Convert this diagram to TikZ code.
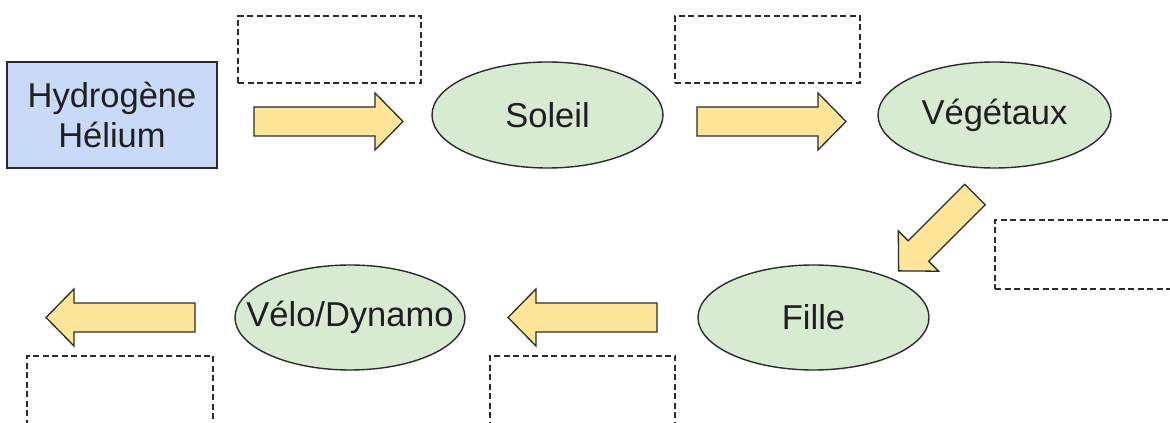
\documentclass[tikz,border=0pt]{standalone}
\usepackage{fontspec}
\setmainfont{Liberation Sans}
\usetikzlibrary{shapes.geometric}
\definecolor{boxblue}{HTML}{C9DAF8}
\definecolor{ellgreen}{HTML}{D9EAD3}
\definecolor{arrowyellow}{HTML}{FFE599}
\definecolor{edge}{HTML}{2B2B2B}
\tikzset{
  txt/.style={font=\fontsize{34.5}{40}\selectfont, text=black!88, align=center},
  source/.style={txt, draw=edge, line width=1.4pt, fill=boxblue, minimum width=210pt, minimum height=106pt, inner sep=0pt},
  stage/.style={txt, ellipse, draw=edge, line width=1.4pt, fill=ellgreen, minimum width=231pt, minimum height=106pt, inner sep=0pt},
  blank/.style={draw=edge, dash pattern=on 6pt off 3.5pt, line width=1.5pt, minimum width=183pt, minimum height=67pt, inner sep=0pt},
  arrowbody/.style={draw=edge, line width=1.3pt, fill=arrowyellow, line join=miter},
  barrow/.pic={\draw[arrowbody] (0,-14.5) -- (#1-28,-14.5) -- (#1-28,-28.5) -- (#1,0) -- (#1-28,28.5) -- (#1-28,14.5) -- (0,14.5) -- cycle;}
}
\begin{document}
\begin{tikzpicture}[x=1pt,y=1pt]
\clip (0,0) rectangle (1170,423);
\fill[white] (0,0) rectangle (1170,423);
% nodes
\node[source] (src) at (112,308) {Hydrogène\\Hélium};
\node[stage] (soleil) at (547.5,308) {Soleil};
\node[stage, minimum width=233pt] (veg) at (994.5,308) {Végétaux};
\node[stage, minimum height=105pt] (fille) at (813.5,105.5) {Fille};
\node[stage, minimum width=230pt, minimum height=105pt] (velo) at (350,105.5) {\makebox[0pt]{Vélo/Dynamo}};
% blank boxes
\node[blank] (b1) at (329.5,373.5) {};
\node[blank, minimum width=185pt] (b2) at (767.5,373.5) {};
\node[blank, minimum width=185pt, minimum height=69pt] (b3) at (1087.5,168.5) {};
\node[blank, minimum width=186pt, minimum height=77pt] (b4) at (120,28.5) {};
\node[blank, minimum width=185pt, minimum height=77pt] (b5) at (582.5,28.5) {};
% block arrows
\coordinate (a1) at (254,301.5);
\coordinate (a2) at (697,301.5);
\coordinate (a3) at (975,228.5);
\coordinate (a4) at (657,105.5);
\coordinate (a5) at (195,105.5);
\pic at (a1) {barrow=149};
\pic at (a2) {barrow=149};
\pic[rotate=225] at (a3) {barrow=108};
\pic[rotate=180] at (a4) {barrow=149};
\pic[rotate=180] at (a5) {barrow=149};
\end{tikzpicture}
\end{document}
